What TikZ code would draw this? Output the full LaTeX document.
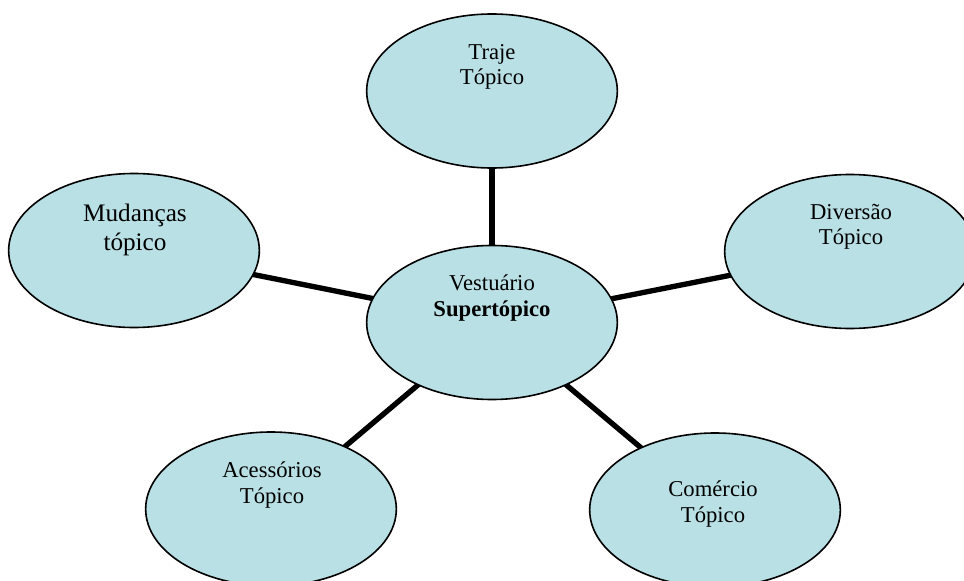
\documentclass[tikz,border=0pt]{standalone}
\usepackage{fontspec}
\setmainfont{Liberation Serif}
\usetikzlibrary{shapes.geometric,backgrounds}
\definecolor{topicfill}{RGB}{185,224,229}
\tikzset{
  topic/.style={ellipse, draw=black, line width=1.2pt, fill=topicfill,
    minimum width=188pt, minimum height=115.5pt, inner sep=0pt},
  txt/.style={align=center, inner sep=0pt, font=\fontsize{17}{18.8}\selectfont},
  bigtxt/.style={align=center, inner sep=0pt, font=\fontsize{18.9}{22}\selectfont},
  link/.style={line width=4pt, black}
}
\begin{document}
\begin{tikzpicture}[x=0.75pt,y=-0.75pt]
\useasboundingbox (0,0) rectangle (964,581);
\clip (0,0) rectangle (964,581);
\node[topic] (t) at (492,91) {};
\node[topic] (c) at (492,322.5) {};
\node[topic] (m) at (134,250.5) {};
\node[topic] (d) at (850,251.5) {};
\node[topic] (a) at (271,509) {};
\node[topic] (k) at (715,510) {};
\begin{pgfonlayer}{background}
\fill[white] (0,0) rectangle (964,581);
\draw[link] (c.center) -- (t.center);
\draw[link] (c.center) -- (m.center);
\draw[link] (c.center) -- (d.center);
\draw[link] (c.center) -- (a.center);
\draw[link] (c.center) -- (k.center);
\end{pgfonlayer}
\node[txt] (tt) at (492,67) {Traje\\Tópico};
\node[txt] (ct) at (492,298) {Vestuário\\\textbf{Supertópico}};
\node[bigtxt] (mt) at (135,230) {Mudanças\\tópico};
\node[txt] (dt) at (851,227) {Diversão\\Tópico};
\node[txt] (at) at (272,485) {Acessórios\\Tópico};
\node[txt] (kt) at (713,504) {Comércio\\Tópico};
\end{tikzpicture}
\end{document}
